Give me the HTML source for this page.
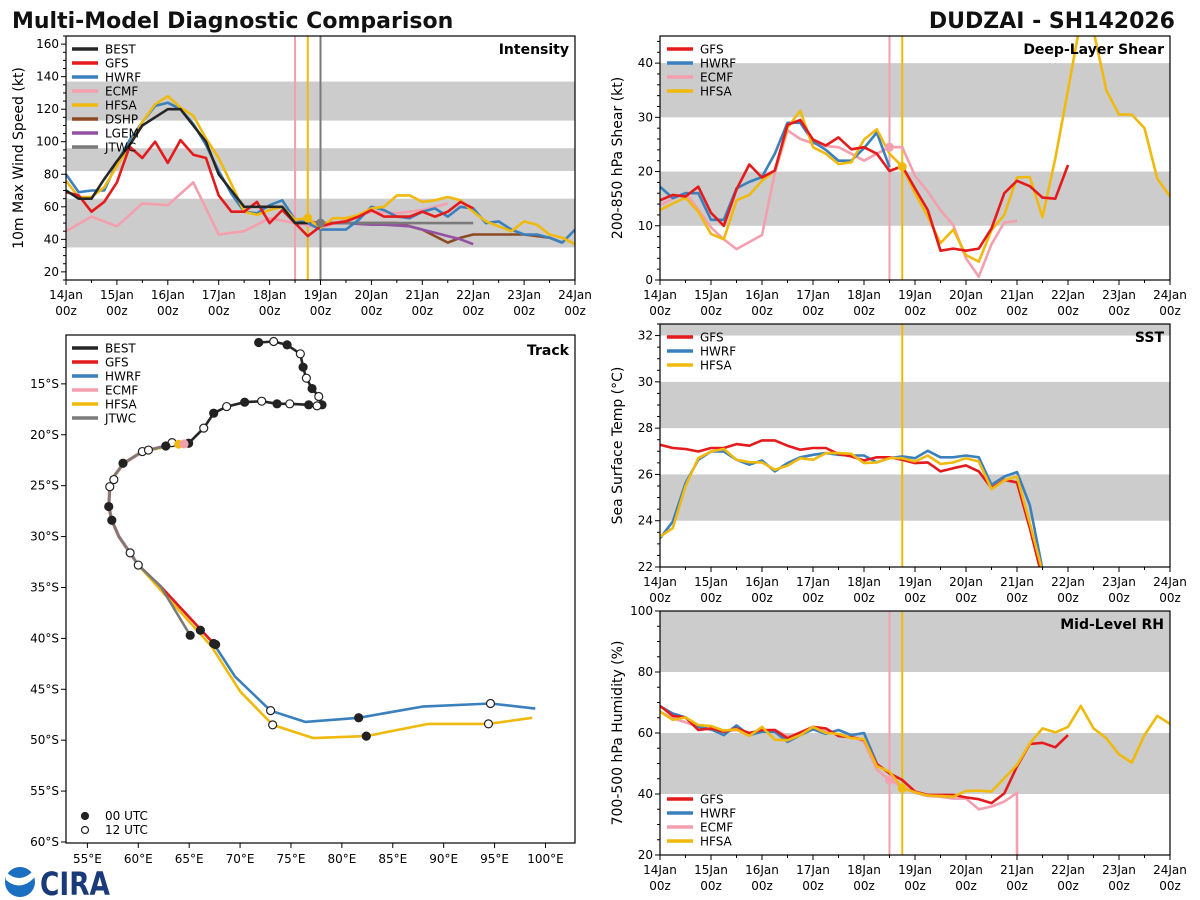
<!DOCTYPE html>
<html><head><meta charset="utf-8"><style>
html,body{margin:0;padding:0;background:#fff;}
svg{display:block;font-family:"DejaVu Sans","Liberation Sans",sans-serif;}
</style></head><body>
<svg id="fig" width="1200" height="900" viewBox="0 0 1200 900" xmlns="http://www.w3.org/2000/svg">
<text x="12" y="28" font-size="22" font-weight="bold" fill="#111">Multi-Model Diagnostic Comparison</text>
<text x="1175" y="28" font-size="22" font-weight="bold" fill="#111" text-anchor="end">DUDZAI - SH142026</text>
<g>
<circle cx="20" cy="882" r="15" fill="#1a6fc0"/>
<path d="M6 880 Q20 892 34 878 L34 870 Q20 885 6 872 Z" fill="#fff"/>
<text x="40" y="895" font-size="32" font-weight="bold" fill="#1b3a7a" font-family="DejaVu Sans, sans-serif" textLength="70" lengthAdjust="spacingAndGlyphs">CIRA</text>
</g>
</svg>
<script>
// ---------- DATA ----------
const timeLabels = ['14Jan','15Jan','16Jan','17Jan','18Jan','19Jan','20Jan','21Jan','22Jan','23Jan','24Jan'];
// Intensity (kt), 6-hourly index from 14Jan00z
const intBest = [70,65,65,77,88,98,110,115,120,120,110,100,80,70,60,60,60,60,50,50];
const intGfs = [69,67,57,63,75,97,90,100,87,101,92,90,67,57,57,63,50,58,50,42,48,50,51,54,58,54,54,54,57,54,57,63,59];
const intHwrf = [80,69,70,70,87,101,112,122,124,120,111,98,82,68,57,56,61,64,52,50,46,46,46,52,60,58,54,53,57,59,54,60,59,50,51,46,43,43,41,38,46];
const intEcmf = [45,54,48,62,61,75,43,45,53,50,47,52,57,56,58,62];
const intHfsa = [76,66,66,72,85,98,112,123,128,121,116,102,90,74,57,55,58,60,52,53,47,53,53,55,59,60,67,67,63,64,66,64,57,51,48,45,51,49,43,41,37];
const intDshp = [51,50,50,50,50,50,50,50,48,46,42,38,41,43,43,43,43,43,42,41,38];
const intLgem = [51,50,50,50,49.5,49,49,48.5,48,46,44,42,40,37];
const intJtwc = [50,50,50,50,50,50,50,50,50,50,50,50,50];
// Shear (kt)
const shrGfs = [14.7,15.7,15.4,17.2,12.4,10,16.7,21.3,18.9,20.2,28.6,29.5,25.9,24.8,26.3,24.1,24.5,23.3,20.1,21,16.9,12.9,5.4,5.8,5.4,5.8,9.5,16,18.3,17.3,15.2,15,21.2];
const shrHwrf = [17.2,15.1,16,16,11.1,11.1,16.9,18.1,19,23.3,29,29,25.5,24,22,22,24.3,27.2,20.8];
const shrEcmf = [13.8,15,16.1,13,9.7,7.5,5.7,7,8.3,19.7,27.6,26,25.2,24.7,24.5,23.3,22,23.3,24.5,24.5,19.2,16.3,12.9,10.1,4,0.6,6.6,10.6,10.9];
const shrHfsa = [12.9,14.1,15.2,12.6,8.5,7.5,14.7,15.7,18.3,20.2,28.1,31.2,24.5,23.3,21.4,21.7,25.9,27.8,23.3,20.9,16,11.7,6.8,9.3,4.6,3.4,9.2,12,18.9,19,11.6,22.4,35,48,46,35,30.5,30.5,28,18.7,15.4];
// SST (C)
const sstGfs = [27.28,27.14,27.1,26.99,27.14,27.14,27.31,27.24,27.47,27.47,27.24,27.07,27.14,27.14,26.88,26.78,26.6,26.74,26.74,26.63,26.49,26.52,26.13,26.27,26.39,26.13,25.41,25.77,25.65,23.68,21.5];
const sstHwrf = [23.24,23.96,25.62,26.63,26.99,26.99,26.63,26.42,26.6,26.13,26.49,26.74,26.85,26.92,26.85,26.82,26.82,26.52,26.7,26.78,26.7,27.02,26.74,26.74,26.82,26.74,25.55,25.91,26.1,24.68,21.9];
const sstHfsa = [23.31,23.68,25.5,26.7,26.99,27.1,26.63,26.53,26.52,26.2,26.38,26.7,26.63,26.92,26.92,26.89,26.49,26.52,26.7,26.7,26.56,26.82,26.45,26.52,26.7,26.56,25.36,25.74,25.91,23.9,21.8];
// Mid-level RH (%)
const rhGfs = [68.9,65.6,65.1,61,61.5,60.4,61.5,60,61,61,58.3,60.2,62,61.5,59,58.6,57.8,49.8,46.8,44.6,40.8,39.7,39.7,39.7,38.9,38.3,37,40.2,49,56.4,56.8,55.3,59.3];
const rhHwrf = [68.8,66.4,65.1,62,61.2,59.3,62.5,59.3,60.4,60.4,57.1,59.3,61.2,59.7,61,59.3,60,50];
const rhEcmf = [67,64.8,63.5,62,61,60.5,61,59.5,60.5,61,59,59.5,61.5,60.5,59.5,59,57,48,44.6,42.4,40.4,39.3,39.1,38.5,38.5,35,35.9,37.5,40.4,0];
const rhEcmfIdx = [0,1,2,3,4,5,6,7,8,9,10,11,12,13,14,15,16,17,18,19,20,21,22,23,24,25,26,27,28,28];
const rhHfsa = [67,64.3,65.1,62.6,62.3,60.8,61.2,59,62,57.8,57.6,59.3,62,60,59.7,58.3,58,49.1,47.3,41.9,40.6,39.5,39.3,39.1,41,41.1,40.8,45.2,49.5,56.6,61.5,60.2,62,68.9,61.5,58.3,53,50.3,59.3,65.6,63];
// Track (lon E, lat S)
const bestLon = [71.83,73.3,74.62,75.92,76.19,76.51,77.07,77.73,78.05,77.56,76.74,74.88,73.63,72.12,70.45,68.68,67.41,66.43,64.95,63.32,62.7];
const bestLat = [10.94,10.84,11.17,12.05,13.36,14.44,15.46,16.24,17.06,17.16,17.06,16.96,16.96,16.7,16.8,17.23,17.88,19.35,20.83,20.77,21.1];
const commonLon = [64.5,62.7,60.4,58.57,57.6,57.2,57.1,57.4,58.1,59.2,60.0,62.2,66.1];
const commonLat = [20.9,21.1,21.65,22.8,24.1,25.1,27.05,28.4,30.0,31.6,32.8,34.9,39.2];
const hwrfTrkLon = [67.4,69.5,73.0,76.4,81.65,87.9,94.6,99.0];
const hwrfTrkLat = [40.5,43.75,47.1,48.2,47.8,46.7,46.4,46.9];
const hfsaTrkLon = [67.2,70.0,73.2,77.2,82.4,88.5,94.4,98.7];
const hfsaTrkLat = [40.8,45.2,48.5,49.8,49.6,48.4,48.4,47.8];
const gfsTrkLon = [67.5];
const gfsTrkLat = [40.6];
const jtwcTrkLon = [65.1];
const jtwcTrkLat = [39.7];
const ecmfTrkEnd = 10;
const markLon = [60.0,59.2,57.2,57.6,60.4,61.0,58.5,57.1,57.4,65.1,66.1,67.4,67.6,73.0,81.65,94.6,73.2,82.4,94.4,63.97,64.5];
const markLat = [32.8,31.6,25.1,24.4,21.65,21.5,22.8,27.05,28.4,39.7,39.2,40.5,40.6,47.1,47.8,46.4,48.5,49.6,48.4,20.93,20.9];
const markType = ['o','o','o','o','o','o','f','f','f','f','f','f','f','o','f','o','o','f','o','y','p'];

// ---------- DRAWING ----------
const NS = 'http://www.w3.org/2000/svg';
const svg = document.getElementById('fig');
const C = {BEST:'#262626',GFS:'#e41a1c',HWRF:'#3a80bd',ECMF:'#f39fae',HFSA:'#f0b90d',DSHP:'#8b4a22',LGEM:'#9450a3',JTWC:'#7a7a7a'};
function mk(tag, attrs, parent){
  const e = document.createElementNS(NS, tag);
  for (const k in attrs) e.setAttribute(k, attrs[k]);
  (parent || svg).appendChild(e);
  return e;
}
let clipN = 0;
function makePanel(P){
  P.sx = i => P.x + i * P.w / 40;
  P.sy = v => P.y + P.h - (v - P.ymin) * P.h / (P.ymax - P.ymin);
  const g = mk('g', {});
  
  
  P.g = g;
  const cp = mk('clipPath', {id:'cp' + (++clipN)}, g);
  mk('rect', {x:P.x, y:P.y, width:P.w, height:P.h}, cp);
  P.clip = 'url(#cp' + clipN + ')';
  P.bands.forEach(b => {
    const r = mk('rect', {x:P.x, y:P.sy(Math.min(b[1], P.ymax)), width:P.w, height:P.sy(b[0]) - P.sy(Math.min(b[1], P.ymax)), fill:'#cccccc'}, g);
    
    
  });
  return P;
}
function axes(P){
  const g = P.g;
  const fr = mk('rect', {x:P.x, y:P.y, width:P.w, height:P.h, fill:'none', stroke:'#000', 'stroke-width':1.2}, g);
  
  
  for (let i = 0; i <= 40; i += 2) {
    const maj = i % 4 === 0;
    const t = mk('line', {x1:P.sx(i), x2:P.sx(i), y1:P.y + P.h, y2:P.y + P.h + (maj ? 5 : 3), stroke:'#000', 'stroke-width':1}, g);
    
    
    if (maj) {
      const tx = mk('text', {x:P.sx(i), y:P.y + P.h + 19, 'font-size':12, 'text-anchor':'middle', fill:'#000'}, g);
      
      
      tx.textContent = timeLabels[i / 4];
      const tz = mk('text', {x:P.sx(i), y:P.y + P.h + 35, 'font-size':12, 'text-anchor':'middle', fill:'#000'}, g);
      
      
      tz.textContent = '00z';
    }
  }
  for (let v = P.ymin; v <= P.ymax + 1e-6; v += P.minor) {
    const vv = Math.round(v * 100) / 100;
    const maj = Math.abs(vv / P.major - Math.round(vv / P.major)) < 1e-6 && vv >= P.firstMajor;
    const t = mk('line', {x1:P.x - (maj ? 5 : 3), x2:P.x, y1:P.sy(vv), y2:P.sy(vv), stroke:'#000', 'stroke-width':1}, g);
    
    
    if (maj) {
      const tx = mk('text', {x:P.x - 7, y:P.sy(vv) + 4, 'font-size':12, 'text-anchor':'end', fill:'#000'}, g);
      
      
      tx.textContent = String(vv);
    }
  }
  const yl = mk('text', {x:0, y:0, 'font-size':14, 'text-anchor':'middle', fill:'#000', transform:'translate(' + P.ylx + ',' + (P.y + P.h / 2) + ') rotate(-90)'}, g);
  
  
  yl.textContent = P.ylabel;
  const tt = mk('text', {x:P.x + P.w - 6, y:P.y + 18, 'font-size':14, 'font-weight':'bold', 'text-anchor':'end', fill:'#000'}, g);
  
  
  tt.textContent = P.title;
}
function series(P, vals, start, step, color, name, idxs){
  let d = '';
  vals.forEach((v, k) => {
    const i = idxs ? idxs[k] : start + k * step;
    d += (k ? 'L' : 'M') + P.sx(i).toFixed(1) + ' ' + P.sy(v).toFixed(1);
  });
  const p = mk('path', {d:d, fill:'none', stroke:color, 'stroke-width':2.6, 'stroke-linejoin':'round', 'clip-path':P.clip}, P.g);
  
  
}
function vline(P, i, color, name){
  const l = mk('line', {x1:P.sx(i), x2:P.sx(i), y1:P.y, y2:P.y + P.h, stroke:color, 'stroke-width':2}, P.g);
  
  
}
function dot(P, i, v, color, name){
  const c = mk('circle', {cx:P.sx(i), cy:P.sy(v), r:4.5, fill:color}, P.g);
  
  
}
function legend(g, x, y, names){
  names.forEach((n, k) => {
    const l = mk('line', {x1:x, x2:x + 26, y1:y + k * 14, y2:y + k * 14, stroke:C[n], 'stroke-width':3.5}, g);
    
    
    const t = mk('text', {x:x + 33, y:y + k * 14 + 4.5, 'font-size':12, fill:'#000'}, g);
    
    
    t.textContent = n;
  });
}

// Intensity
const P1 = makePanel({name:'intensity-panel', x:66, y:36, w:509, h:244, ymin:15, ymax:165, major:20, minor:5, firstMajor:20, bands:[[35,65],[82,96],[113,137]], ylabel:'10m Max Wind Speed (kt)', ylx:23, title:'Intensity'});
vline(P1, 18, C.ECMF, 'ecmf-init-line');
vline(P1, 19, C.HFSA, 'hfsa-init-line');
vline(P1, 20, C.JTWC, 'jtwc-init-line');
series(P1, intEcmf, 0, 2, C.ECMF, 'ecmf-intensity-line');
series(P1, intDshp, 19, 1, C.DSHP, 'dshp-intensity-line');
series(P1, intLgem, 19, 1, C.LGEM, 'lgem-intensity-line');
series(P1, intJtwc, 20, 1, C.JTWC, 'jtwc-intensity-line');
series(P1, intHwrf, 0, 1, C.HWRF, 'hwrf-intensity-line');
series(P1, intHfsa, 0, 1, C.HFSA, 'hfsa-intensity-line');
series(P1, intGfs, 0, 1, C.GFS, 'gfs-intensity-line');
series(P1, intBest, 0, 1, C.BEST, 'best-intensity-line');
dot(P1, 19, intHfsa[19], C.HFSA, 'hfsa-init-dot');
dot(P1, 20, intJtwc[0], C.JTWC, 'jtwc-init-dot');
axes(P1);
legend(P1.g, 72, 49, ['BEST','GFS','HWRF','ECMF','HFSA','DSHP','LGEM','JTWC']);

// Shear
const P2 = makePanel({name:'shear-panel', x:660, y:36, w:510, h:244, ymin:0, ymax:45, major:10, minor:2, firstMajor:0, bands:[[10,20],[30,40]], ylabel:'200-850 hPa Shear (kt)', ylx:622, title:'Deep-Layer Shear'});
vline(P2, 18, C.ECMF, 'ecmf-init-line');
vline(P2, 19, C.HFSA, 'hfsa-init-line');
series(P2, shrEcmf, 0, 1, C.ECMF, 'ecmf-shear-line');
series(P2, shrHwrf, 0, 1, C.HWRF, 'hwrf-shear-line');
series(P2, shrHfsa, 0, 1, C.HFSA, 'hfsa-shear-line');
series(P2, shrGfs, 0, 1, C.GFS, 'gfs-shear-line');
dot(P2, 18, shrEcmf[18], C.ECMF, 'ecmf-init-dot');
dot(P2, 19, shrHfsa[19], C.HFSA, 'hfsa-init-dot');
axes(P2);
legend(P2.g, 667, 49, ['GFS','HWRF','ECMF','HFSA']);

// SST
const P3 = makePanel({name:'sst-panel', x:660, y:324, w:510, h:243, ymin:22, ymax:32.5, major:2, minor:0.5, firstMajor:22, bands:[[24,26],[28,30],[32,33]], ylabel:'Sea Surface Temp (°C)', ylx:622, title:'SST'});
vline(P3, 19, C.HFSA, 'hfsa-init-line');
series(P3, sstHwrf, 0, 1, C.HWRF, 'hwrf-sst-line');
series(P3, sstGfs, 0, 1, C.GFS, 'gfs-sst-line');
series(P3, sstHfsa, 0, 1, C.HFSA, 'hfsa-sst-line');
axes(P3);
legend(P3.g, 667, 337, ['GFS','HWRF','HFSA']);

// RH
const P4 = makePanel({name:'rh-panel', x:660, y:611, w:510, h:244, ymin:20, ymax:100, major:20, minor:5, firstMajor:20, bands:[[40,60],[80,100]], ylabel:'700-500 hPa Humidity (%)', ylx:622, title:'Mid-Level RH'});
vline(P4, 18, C.ECMF, 'ecmf-init-line');
vline(P4, 19, C.HFSA, 'hfsa-init-line');
series(P4, rhEcmf, 0, 1, C.ECMF, 'ecmf-rh-line', rhEcmfIdx);
series(P4, rhHwrf, 0, 1, C.HWRF, 'hwrf-rh-line');
series(P4, rhGfs, 0, 1, C.GFS, 'gfs-rh-line');
series(P4, rhHfsa, 0, 1, C.HFSA, 'hfsa-rh-line');
dot(P4, 18, rhEcmf[18], C.ECMF, 'ecmf-init-dot');
dot(P4, 19, rhHfsa[19], C.HFSA, 'hfsa-init-dot');
axes(P4);
legend(P4.g, 667, 799, ['GFS','HWRF','ECMF','HFSA']);

// Track
const T = {x:66, y:335, w:509, h:508, lon0:52.9, lon1:102.9, lat0:10.2, lat1:60.1};
const tx = lon => T.x + (lon - T.lon0) * T.w / (T.lon1 - T.lon0);
const ty = lat => T.y + (lat - T.lat0) * T.h / (T.lat1 - T.lat0);
const tg = mk('g', {});


const tcp = mk('clipPath', {id:'tcp'}, tg);
mk('rect', {x:T.x, y:T.y, width:T.w, height:T.h}, tcp);
function trk(lons, lats, color, name, w){
  let d = '';
  lons.forEach((lo, k) => { d += (k ? 'L' : 'M') + tx(lo).toFixed(1) + ' ' + ty(lats[k]).toFixed(1); });
  const p = mk('path', {d:d, fill:'none', stroke:color, 'stroke-width':w || 2.6, 'stroke-linejoin':'round', 'clip-path':'url(#tcp)'}, tg);
  
  
}
trk(commonLon.slice(0, ecmfTrkEnd).concat([59.6]), commonLat.slice(0, ecmfTrkEnd).concat([32.2]), C.ECMF, 'ecmf-track', 3.5);
trk(commonLon.slice(1, 12).concat(hwrfTrkLon), commonLat.slice(1, 12).concat(hwrfTrkLat), C.HWRF, 'hwrf-track');
trk(commonLon.slice(1, 12).concat(gfsTrkLon), commonLat.slice(1, 12).concat(gfsTrkLat), C.GFS, 'gfs-track');
trk([63.97].concat(commonLon.slice(2, 11)).concat(hfsaTrkLon), [20.93].concat(commonLat.slice(2, 11)).concat(hfsaTrkLat), C.HFSA, 'hfsa-track');
trk(commonLon.slice(1, 12).concat(jtwcTrkLon), commonLat.slice(1, 12).concat(jtwcTrkLat), C.JTWC, 'jtwc-track');
trk(bestLon, bestLat, C.BEST, 'best-track');
bestLon.forEach((lo, k) => {
  const c = mk('circle', {cx:tx(lo), cy:ty(bestLat[k]), r:4, fill:k % 2 ? '#fff' : '#222', stroke:'#222', 'stroke-width':1.2}, tg);
  
  
});
markLon.forEach((lo, k) => {
  const t = markType[k];
  const fill = t === 'f' ? '#222' : t === 'o' ? '#fff' : t === 'y' ? C.HFSA : C.ECMF;
  const c = mk('circle', {cx:tx(lo), cy:ty(markLat[k]), r:(t === 'y' || t === 'p') ? 4.5 : 4, fill:fill, stroke:(t === 'y' || t === 'p') ? 'none' : '#222', 'stroke-width':1.2}, tg);
  
  
});
const tfr = mk('rect', {x:T.x, y:T.y, width:T.w, height:T.h, fill:'none', stroke:'#000', 'stroke-width':1.2}, tg);


for (let lo = 55; lo <= 100; lo += 5) {
  const t = mk('line', {x1:tx(lo), x2:tx(lo), y1:T.y + T.h, y2:T.y + T.h + 5, stroke:'#000'}, tg);
  
  
  const l = mk('text', {x:tx(lo), y:T.y + T.h + 20, 'font-size':12, 'text-anchor':'middle', fill:'#000'}, tg);
  
  
  l.textContent = lo + '°E';
}
for (let la = 15; la <= 60; la += 5) {
  const t = mk('line', {x1:T.x - 5, x2:T.x, y1:ty(la), y2:ty(la), stroke:'#000'}, tg);
  
  
  const l = mk('text', {x:T.x - 7, y:ty(la) + 4, 'font-size':12, 'text-anchor':'end', fill:'#000'}, tg);
  
  
  l.textContent = la + '°S';
}
const ttl = mk('text', {x:T.x + T.w - 6, y:T.y + 20, 'font-size':14, 'font-weight':'bold', 'text-anchor':'end', fill:'#000'}, tg);


ttl.textContent = 'Track';
legend(tg, 72, 348, ['BEST','GFS','HWRF','ECMF','HFSA','JTWC']);
[['#222','00 UTC'],['#fff','12 UTC']].forEach((m, k) => {
  const c = mk('circle', {cx:85, cy:816 + k * 14, r:3.5, fill:m[0], stroke:'#222', 'stroke-width':1.2}, tg);
  
  
  const t = mk('text', {x:105, y:820 + k * 14, 'font-size':12, fill:'#000'}, tg);
  
  
  t.textContent = m[1];
});
</script>
</body></html>
